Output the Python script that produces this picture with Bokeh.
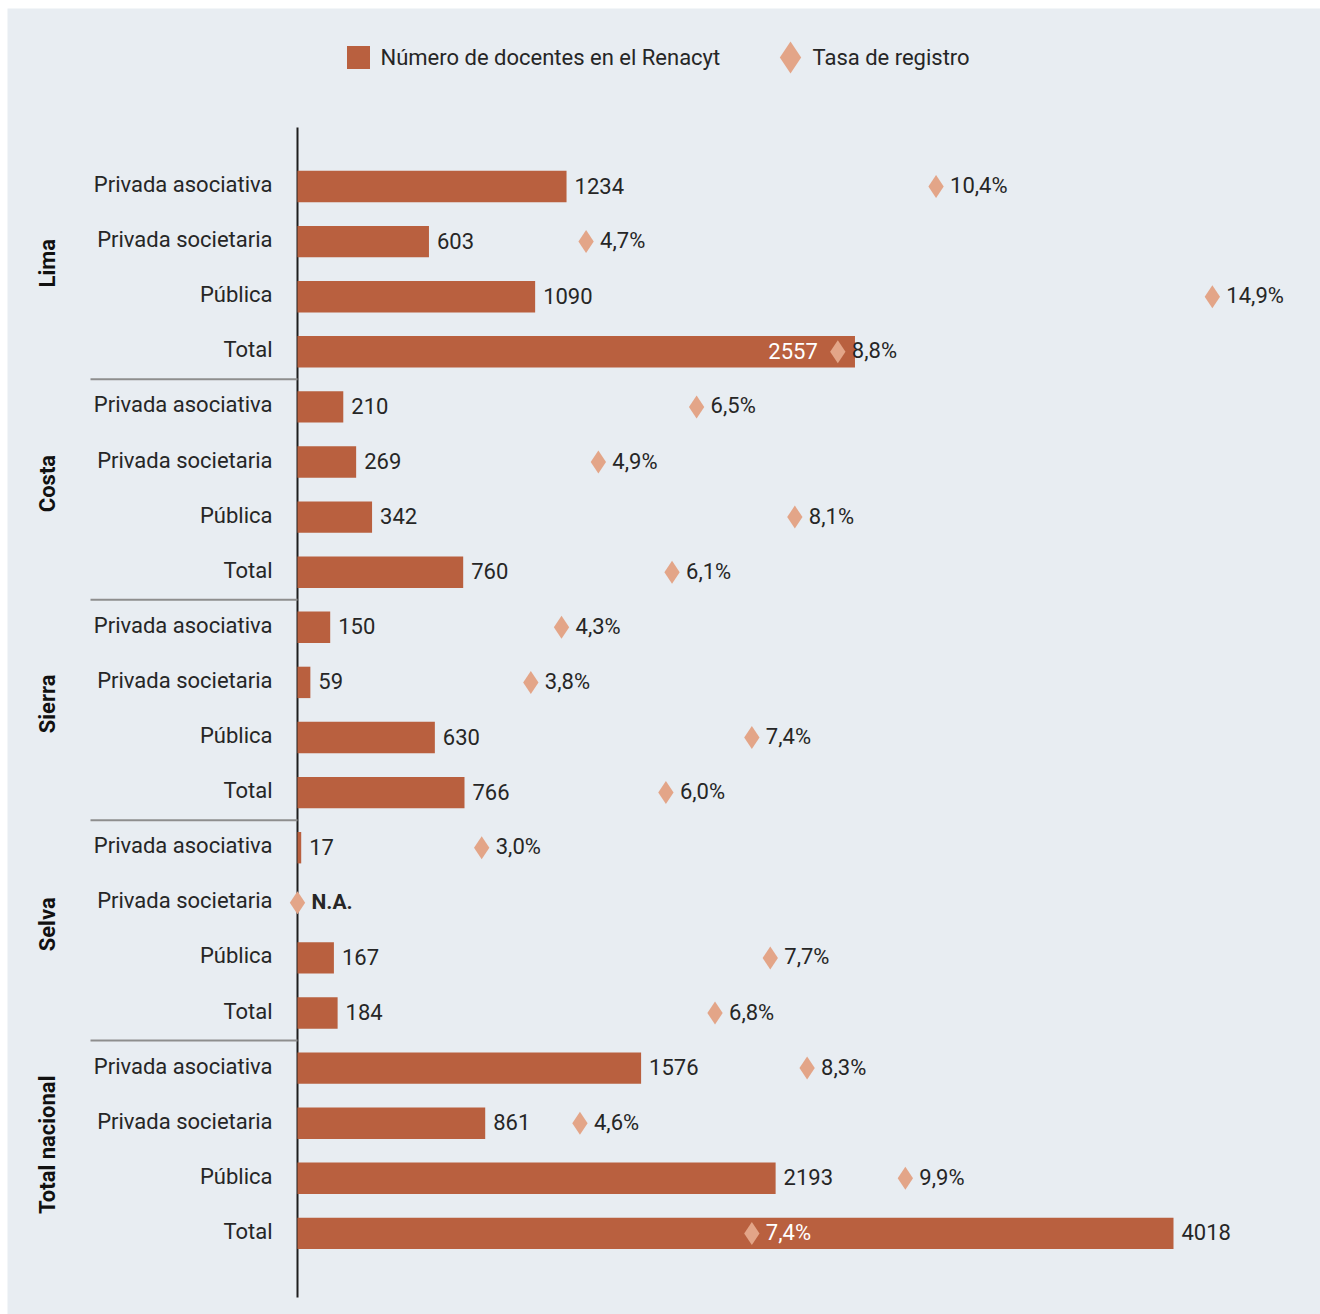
import math
from bokeh.plotting import figure
from bokeh.models import Range1d
from bokeh.core.properties import value
from bokeh.embed import file_html
from bokeh.resources import INLINE

# ---------------- data ----------------
groups = ["Lima", "Costa", "Sierra", "Selva", "Total nacional"]
types = ["Privada asociativa", "Privada societaria", "Pública", "Total"]

docentes_lima = [1234, 603, 1090, 2557]
docentes_costa = [210, 269, 342, 760]
docentes_sierra = [150, 59, 630, 766]
docentes_selva = [17, None, 167, 184]
docentes_total = [1576, 861, 2193, 4018]

tasa_lima = [10.4, 4.7, 14.9, 8.8]
tasa_costa = [6.5, 4.9, 8.1, 6.1]
tasa_sierra = [4.3, 3.8, 7.4, 6.0]
tasa_selva = [3.0, None, 7.7, 6.8]
tasa_total = [8.3, 4.6, 9.9, 7.4]

legend_labels = ["Número de docentes en el Renacyt", "Tasa de registro"]

docentes_all = docentes_lima + docentes_costa + docentes_sierra + docentes_selva + docentes_total
tasa_all = tasa_lima + tasa_costa + tasa_sierra + tasa_selva + tasa_total

# ---------------- layout / style ----------------
W, H = 1320, 1314
FL, FT = 7, 8                 # frame left / top on the page
FW, FH = W - FL, H - FT
AXIS_PX = 297 - FL
BAR_PX = 0.21802      # pixels per docente
RATE_PX = 61.4        # pixels per percentage point
ROW_PX = 55.1
FIRST_ROW_PX = 186 - FT

BG = "#e8edf2"
BAR_C = "#b9603f"
DIA_C = "#e3a588"
TXT = "#262626"
FONT = "Roboto"
FS = "22px"


def px2x(px):
    return (px - FL - AXIS_PX) / BAR_PX


def py2y(py):
    return (py - FT - FIRST_ROW_PX) / ROW_PX


p = figure(width=W, height=H, output_backend="svg", toolbar_location=None,
           x_axis_location=None, y_axis_location=None,
           x_range=Range1d(-AXIS_PX / BAR_PX, (FW - AXIS_PX) / BAR_PX),
           y_range=Range1d((FH - FIRST_ROW_PX) / ROW_PX, -FIRST_ROW_PX / ROW_PX),
           min_border_left=FL, min_border_top=FT, min_border_right=0, min_border_bottom=0,
           background_fill_color=BG, border_fill_color="white",
           outline_line_color=None)
p.extra_x_ranges = {"rate": Range1d(-AXIS_PX / RATE_PX, (FW - AXIS_PX) / RATE_PX)}
p.xgrid.visible = False
p.ygrid.visible = False

rows = list(range(len(docentes_all)))

# axis line
p.segment(x0=[0], y0=[py2y(127)], x1=[0], y1=[py2y(1297)], line_color="#1e1e1e", line_width=2)

# group separators
seps = [g * 4 - 0.5 for g in range(1, len(groups))]
p.segment(x0=[px2x(90)] * len(seps), y0=seps, x1=[0] * len(seps), y1=seps,
          line_color="#8e8e8e", line_width=2)

# category labels
p.text(x=[0] * len(rows), y=rows, text=types * len(groups), x_offset=-25, y_offset=-2,
       text_align="right", text_baseline="middle", text_font=value(FONT),
       text_font_size=FS, text_color=TXT)

# group labels
g_centers = [g * 4 + 1.5 for g in range(len(groups))]
p.text(x=[0] * len(groups), y=g_centers, text=groups, x_offset=-250, y_offset=-6,
       angle=math.pi / 2,
       text_align="center", text_baseline="middle", text_font=value(FONT),
       text_font_size=FS, text_font_style="bold", text_color="#111111")

# bars
bar_rows = [r for r in rows if docentes_all[r] is not None]
bar_vals = [docentes_all[r] for r in bar_rows]
p.hbar(y=bar_rows, right=bar_vals, left=0, height=0.57, fill_color=BAR_C, line_color=None)

# diamonds
dia_vals = [t if t is not None else 0 for t in tasa_all]
p.scatter(x=dia_vals, y=rows, marker="diamond", size=23, fill_color=DIA_C, line_color=None,
          x_range_name="rate")

# value and rate labels
out_v = {"x": [], "y": [], "t": []}
in_v = {"x": [], "y": [], "t": []}
out_r = {"x": [], "y": [], "t": []}
in_r = {"x": [], "y": [], "t": []}
na_r = {"x": [], "y": [], "t": []}
for r in rows:
    d = docentes_all[r]
    t = tasa_all[r]
    tv = 0 if t is None else t
    rate_px = tv * RATE_PX
    if t is None:
        na_r["x"].append(tv); na_r["y"].append(r); na_r["t"].append("N.A.")
        continue
    rate_txt = ("%.1f%%" % t).replace(".", ",")
    bar_px = d * BAR_PX
    if rate_px < bar_px and bar_px - rate_px < 60:
        in_v["x"].append(tv); in_v["y"].append(r); in_v["t"].append(str(d))
    else:
        out_v["x"].append(d); out_v["y"].append(r); out_v["t"].append(str(d))
    if rate_px + 14 < bar_px - 60:
        in_r["x"].append(tv); in_r["y"].append(r); in_r["t"].append(rate_txt)
    else:
        out_r["x"].append(tv); out_r["y"].append(r); out_r["t"].append(rate_txt)

p.text(x=out_v["x"], y=out_v["y"], text=out_v["t"], x_offset=8, y_offset=-1,
       text_align="left", text_baseline="middle", text_font=value(FONT),
       text_font_size=FS, text_color=TXT)
p.text(x=in_v["x"], y=in_v["y"], text=in_v["t"], x_offset=-20, y_offset=-1,
       text_align="right", text_baseline="middle", text_font=value(FONT),
       text_font_size=FS, text_color="white", x_range_name="rate")
p.text(x=out_r["x"], y=out_r["y"], text=out_r["t"], x_offset=14, y_offset=-1,
       text_align="left", text_baseline="middle", text_font=value(FONT),
       text_font_size=FS, text_color=TXT, x_range_name="rate")
p.text(x=in_r["x"], y=in_r["y"], text=in_r["t"], x_offset=14, y_offset=-1,
       text_align="left", text_baseline="middle", text_font=value(FONT),
       text_font_size=FS, text_color="white", x_range_name="rate")
p.text(x=na_r["x"], y=na_r["y"], text=na_r["t"], x_offset=14, y_offset=-1,
       text_align="left", text_baseline="middle", text_font=value(FONT),
       text_font_size="21px", text_font_style="bold", text_color=TXT, x_range_name="rate")

# legend (manual)
ly = py2y(57)
p.scatter(x=[px2x(358)], y=[ly], marker="square", size=23, fill_color=BAR_C, line_color=None)
p.scatter(x=[px2x(790)], y=[ly], marker="diamond", size=32, fill_color=DIA_C, line_color=None)
p.text(x=[px2x(358), px2x(790)], y=[ly, ly], text=legend_labels, x_offset=22,
       text_align="left", text_baseline="middle", text_font=value(FONT),
       text_font_size=FS, text_color=TXT)

open("out.html", "w").write(file_html(p, INLINE))
